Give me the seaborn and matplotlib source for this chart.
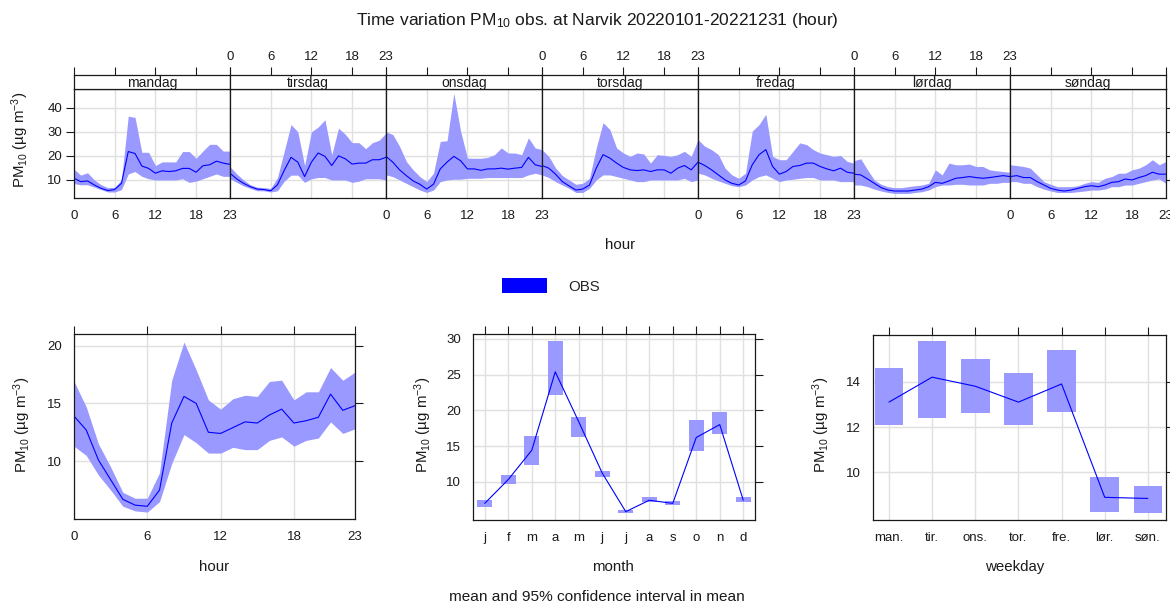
import numpy as np
import pandas as pd
import matplotlib
matplotlib.use("Agg")
import matplotlib.pyplot as plt
import seaborn as sns
from matplotlib.patches import Patch

sns.set_style("white")
plt.rcParams["font.family"] = ["Liberation Sans", "DejaVu Sans"]
plt.rcParams["mathtext.fontset"] = "custom"
plt.rcParams["mathtext.rm"] = "Liberation Sans"
plt.rcParams["mathtext.it"] = "Liberation Sans:italic"
plt.rcParams["mathtext.default"] = "regular"

# ---------------- data ----------------
hours = list(range(24))
day_names = ["mandag", "tirsdag", "onsdag", "torsdag", "fredag", "lørdag", "søndag"]

mandag_mean = [10.7, 9.3, 9.6, 7.9, 6.5, 5.6, 6.0, 8.6, 21.8, 21.0, 15.8, 14.8, 12.8, 13.8, 13.5, 13.8, 14.8, 14.8, 13.2, 15.9, 16.3, 17.8, 17.0, 16.5]
mandag_lo = [8.5, 8.0, 8.0, 7.0, 6.0, 5.0, 5.0, 6.0, 12.5, 13.5, 11.5, 10.5, 10.0, 10.0, 10.0, 10.0, 10.5, 9.0, 9.5, 10.5, 11.5, 12.5, 11.5, 11.5]
mandag_hi = [14.5, 12.0, 13.0, 10.0, 8.0, 6.8, 7.0, 10.0, 36.5, 36.0, 21.5, 21.5, 16.0, 17.5, 17.5, 17.5, 21.8, 21.8, 19.0, 22.0, 24.8, 24.8, 22.0, 22.0]

tirsdag_mean = [12.8, 10.4, 8.6, 7.2, 6.2, 6.0, 5.5, 8.0, 14.0, 19.4, 17.4, 11.4, 17.4, 21.2, 19.8, 16.0, 20.0, 18.8, 16.6, 17.0, 17.0, 18.4, 18.4, 19.4]
tirsdag_lo = [10.5, 9.0, 7.5, 6.5, 5.5, 5.5, 5.0, 5.5, 9.5, 12.0, 12.0, 9.0, 10.5, 11.0, 11.0, 10.0, 10.0, 10.0, 9.0, 9.5, 10.5, 10.5, 10.5, 10.0]
tirsdag_hi = [15.5, 12.5, 10.0, 8.0, 7.0, 6.8, 6.5, 11.0, 22.0, 33.0, 30.0, 16.0, 30.0, 32.0, 35.0, 20.5, 31.5, 29.0, 25.5, 25.5, 23.0, 25.5, 26.5, 29.5]

onsdag_mean = [19.8, 17.4, 14.2, 11.8, 9.6, 8.2, 6.2, 8.2, 14.6, 17.4, 19.8, 18.0, 14.6, 14.6, 14.0, 14.6, 14.6, 14.9, 14.5, 14.9, 15.2, 19.4, 16.3, 15.6]
onsdag_lo = [12.1, 11.4, 10.0, 8.6, 7.2, 5.8, 4.8, 5.8, 9.3, 10.0, 10.3, 10.3, 10.7, 10.7, 10.7, 11.0, 11.0, 11.0, 11.0, 11.0, 11.0, 12.1, 12.8, 12.1]
onsdag_hi = [30.0, 28.9, 24.0, 17.7, 14.2, 11.4, 9.3, 12.8, 26.0, 26.3, 46.0, 30.3, 19.1, 19.0, 19.0, 19.4, 20.5, 23.3, 21.2, 21.2, 20.5, 27.5, 23.3, 22.6]

torsdag_mean = [16.0, 14.9, 12.4, 9.3, 7.5, 5.8, 6.2, 7.9, 14.9, 20.5, 19.1, 17.0, 15.2, 14.2, 13.9, 14.2, 13.5, 14.2, 14.2, 12.8, 14.9, 16.0, 14.2, 17.4]
torsdag_lo = [12.1, 11.0, 9.3, 7.9, 6.5, 4.8, 4.8, 6.5, 10.0, 12.1, 12.1, 11.4, 10.7, 10.0, 9.3, 9.3, 10.0, 10.0, 10.0, 10.0, 10.0, 10.7, 9.3, 10.0]
torsdag_hi = [22.6, 19.8, 15.0, 11.8, 10.0, 8.2, 8.6, 10.7, 23.3, 33.8, 31.0, 23.3, 21.2, 19.8, 21.2, 20.8, 17.0, 20.5, 20.2, 19.8, 20.5, 21.9, 19.8, 26.8]

fredag_mean = [17.4, 16.0, 14.2, 12.1, 10.0, 8.6, 7.9, 9.6, 16.3, 20.5, 22.6, 15.6, 12.4, 13.5, 15.6, 16.0, 17.0, 17.0, 15.6, 14.6, 13.8, 14.9, 13.2, 12.8]
fredag_lo = [12.8, 12.1, 10.7, 9.6, 8.6, 7.6, 7.2, 7.9, 10.0, 11.4, 12.1, 10.7, 9.3, 10.0, 10.3, 10.7, 11.0, 11.0, 10.0, 10.0, 10.0, 9.3, 9.3, 9.3]
fredag_hi = [26.8, 24.0, 22.6, 20.5, 14.9, 12.1, 10.7, 12.8, 30.3, 33.0, 37.3, 19.8, 18.4, 18.4, 21.9, 25.4, 24.7, 22.6, 21.2, 20.5, 19.8, 20.2, 17.7, 17.0]

lordag_mean = [12.4, 12.1, 10.4, 8.6, 6.8, 5.8, 5.4, 5.4, 5.4, 5.8, 6.2, 7.2, 9.0, 8.6, 9.6, 10.7, 11.0, 11.4, 11.0, 10.7, 11.0, 11.4, 11.8, 11.4]
lordag_lo = [7.9, 7.9, 7.2, 6.2, 5.4, 4.8, 4.4, 4.4, 4.4, 4.8, 5.1, 5.8, 7.2, 7.9, 7.9, 8.2, 8.2, 7.9, 7.9, 7.9, 8.6, 8.6, 9.0, 9.0]
lordag_hi = [18.0, 18.8, 14.2, 10.0, 8.2, 7.2, 6.8, 6.8, 7.2, 7.6, 7.9, 8.6, 14.2, 12.1, 17.0, 16.3, 16.3, 16.6, 15.6, 15.6, 14.2, 13.8, 13.5, 13.2]

sondag_mean = [11.4, 11.8, 11.0, 11.0, 9.3, 7.9, 6.5, 5.8, 5.4, 5.8, 6.5, 7.2, 7.6, 7.2, 7.9, 9.0, 9.3, 10.4, 10.0, 11.0, 11.8, 13.2, 12.4, 12.4]
sondag_lo = [9.3, 9.3, 8.6, 8.6, 7.2, 6.2, 5.4, 4.8, 4.8, 4.8, 5.1, 5.4, 5.8, 5.8, 6.2, 7.2, 7.2, 7.9, 7.9, 8.6, 9.3, 10.0, 10.4, 8.6]
sondag_hi = [16.3, 16.0, 15.6, 14.9, 12.1, 9.3, 8.2, 7.2, 7.2, 7.2, 7.6, 8.6, 9.3, 9.0, 10.7, 11.4, 12.8, 12.8, 14.2, 14.9, 16.3, 18.4, 16.3, 17.7]

hour_mean = [13.9, 12.7, 10.1, 8.4, 6.7, 6.2, 6.1, 7.5, 13.3, 15.6, 15.0, 12.5, 12.4, 12.9, 13.4, 13.3, 14.0, 14.5, 13.3, 13.5, 13.8, 15.8, 14.4, 14.8]
hour_lo = [11.3, 10.5, 8.8, 7.5, 6.1, 5.7, 5.6, 6.5, 9.8, 12.3, 11.6, 10.7, 10.7, 11.2, 11.0, 11.0, 11.8, 12.1, 11.3, 11.8, 12.0, 13.4, 12.4, 12.8]
hour_hi = [16.9, 14.7, 11.5, 9.5, 7.3, 6.8, 6.8, 9.0, 17.0, 20.3, 17.9, 15.3, 14.5, 15.4, 15.7, 15.6, 16.9, 17.0, 15.3, 16.0, 16.0, 18.1, 17.0, 17.7]

month_labels = ["j", "f", "m", "a", "m", "j", "j", "a", "s", "o", "n", "d"]
month_mean = [6.96, 10.3, 14.4, 25.4, 18.4, 11.2, 5.8, 7.4, 6.96, 16.2, 18.0, 7.4]
month_lo = [6.4, 9.7, 12.4, 22.2, 16.2, 10.6, 5.6, 7.1, 6.7, 14.3, 16.7, 7.1]
month_hi = [7.4, 10.9, 16.4, 29.7, 19.1, 11.5, 6.1, 7.9, 7.3, 18.7, 19.8, 7.9]

weekday_labels = ["man.", "tir.", "ons.", "tor.", "fre.", "lør.", "søn."]
weekday_mean = [13.1, 14.2, 13.8, 13.1, 13.9, 8.9, 8.85]
weekday_lo = [12.1, 12.4, 12.6, 12.1, 12.65, 8.25, 8.2]
weekday_hi = [14.6, 15.8, 15.0, 14.4, 15.4, 9.8, 9.4]

# ---------------- styling ----------------
LINE = "#0000FF"
FILL = "#9999FF"
GRID = "#E0E0E0"
FRAME = "#1a1a1a"
TICK_FS = 9.5
STRIP_FS = 10
LAB_FS = 10.8
LW = 0.8
YLAB = "PM$_{10}$ (µg m$^{-3}$)"

W, H = 1170, 604
fig = plt.figure(figsize=(W / 100, H / 100), dpi=100)
fig.patch.set_facecolor("white")


def add_ax(x0, y0, x1, y1):
    return fig.add_axes([x0 / W, 1 - y1 / H, (x1 - x0) / W, (y1 - y0) / H])


def style(ax):
    for s in ax.spines.values():
        s.set_color(FRAME)
        s.set_linewidth(0.9)
    ax.tick_params(direction="out", length=5.5, width=0.8, color=FRAME,
                   labelcolor=FRAME, labelsize=TICK_FS, pad=3)
    ax.grid(True, color=GRID, lw=1.0)
    ax.set_axisbelow(True)


# ---------------- top panel: hour x weekday ----------------
day_data = [
    (mandag_mean, mandag_lo, mandag_hi),
    (tirsdag_mean, tirsdag_lo, tirsdag_hi),
    (onsdag_mean, onsdag_lo, onsdag_hi),
    (torsdag_mean, torsdag_lo, torsdag_hi),
    (fredag_mean, fredag_lo, fredag_hi),
    (lordag_mean, lordag_lo, lordag_hi),
    (sondag_mean, sondag_lo, sondag_hi),
]
xs = np.linspace(74, 1166, 8)
hticks = [0, 6, 12, 18, 23]
for i, (name, (m, lo, hi)) in enumerate(zip(day_names, day_data)):
    ax = add_ax(xs[i], 89, xs[i + 1], 198)
    style(ax)
    ax.fill_between(hours, lo, hi, color=FILL, lw=0)
    df = pd.DataFrame({"hour": hours, "value": m})
    sns.lineplot(data=df, x="hour", y="value", ax=ax, color=LINE, lw=LW)
    ax.set_xlim(0, 23)
    ax.set_ylim(2.5, 47.8)
    ax.set_xticks(hticks)
    ax.set_yticks([10, 20, 30, 40])
    ax.set_xlabel("")
    ax.set_ylabel("")
    if i % 2 == 0:
        ax.set_xticklabels([str(h) for h in hticks])
    else:
        ax.set_xticklabels([])
    if i == 0:
        ax.tick_params(axis="y", left=True, right=False, labelleft=True)
    elif i == 6:
        ax.tick_params(axis="y", left=False, right=True, labelleft=False)
    else:
        ax.tick_params(axis="y", left=False, right=False, labelleft=False)
    # strip
    st = add_ax(xs[i], 75, xs[i + 1], 89)
    for s in st.spines.values():
        s.set_color(FRAME)
        s.set_linewidth(0.9)
    st.set_xlim(0, 23)
    st.set_ylim(0, 1)
    st.set_yticks([])
    st.xaxis.set_ticks_position("top")
    st.set_xticks(hticks)
    st.tick_params(direction="out", length=5.5, width=0.8, color=FRAME,
                   labelcolor=FRAME, labelsize=TICK_FS, pad=3)
    if i % 2 == 1:
        st.set_xticklabels([str(h) for h in hticks])
    else:
        st.set_xticklabels([])
    st.text(11.5, 0.45, name, ha="center", va="center", fontsize=STRIP_FS, color=FRAME)

fig.text(20 / W, 1 - 140 / H, YLAB, rotation=90, ha="center", va="center",
         fontsize=LAB_FS, color=FRAME)
fig.text(620 / W, 1 - 245 / H, "hour", ha="center", va="center",
         fontsize=LAB_FS, color=FRAME)

# legend
fig.legend(handles=[Patch(facecolor=LINE, edgecolor="none", label="OBS")],
           loc="center", bbox_to_anchor=(551 / W, 1 - 286 / H), frameon=False,
           fontsize=LAB_FS, handlelength=3.0, handleheight=1.1,
           handletextpad=1.4)

# ---------------- bottom-left: hour ----------------
ax = add_ax(74, 334, 355, 519)
style(ax)
ax.fill_between(hours, hour_lo, hour_hi, color=FILL, lw=0)
sns.lineplot(data=pd.DataFrame({"hour": hours, "value": hour_mean}),
             x="hour", y="value", ax=ax, color=LINE, lw=LW)
ax.set_xlim(0, 23)
ax.set_ylim(5.0, 21.0)
ax.set_xticks(hticks)
ax.set_yticks([10, 15, 20])
ax.tick_params(top=True, right=True)
ax.set_xlabel("")
ax.set_ylabel("")
fig.text(214 / W, 1 - 567 / H, "hour", ha="center", va="center", fontsize=LAB_FS, color=FRAME)
fig.text(22 / W, 1 - 425 / H, YLAB, rotation=90, ha="center", va="center", fontsize=LAB_FS, color=FRAME)

# ---------------- bottom-middle: month ----------------
mx = list(range(12))
ax = add_ax(473, 334, 755, 520)
style(ax)
ax.bar(mx, np.array(month_hi) - np.array(month_lo), bottom=month_lo,
       width=0.64, color=FILL, lw=0)
sns.lineplot(data=pd.DataFrame({"m": mx, "value": month_mean}),
             x="m", y="value", ax=ax, color=LINE, lw=LW)
ax.set_xlim(-0.5, 11.5)
ax.set_ylim(4.63, 30.7)
ax.set_xticks(mx)
ax.set_xticklabels(month_labels)
ax.set_yticks([10, 15, 20, 25, 30])
ax.tick_params(top=True, right=True)
ax.set_xlabel("")
ax.set_ylabel("")
fig.text(613 / W, 1 - 567 / H, "month", ha="center", va="center", fontsize=LAB_FS, color=FRAME)
fig.text(423 / W, 1 - 425 / H, YLAB, rotation=90, ha="center", va="center", fontsize=LAB_FS, color=FRAME)

# ---------------- bottom-right: weekday ----------------
wx = list(range(7))
ax = add_ax(873, 335, 1166, 520)
style(ax)
ax.bar(wx, np.array(weekday_hi) - np.array(weekday_lo), bottom=weekday_lo,
       width=0.66, color=FILL, lw=0)
sns.lineplot(data=pd.DataFrame({"d": wx, "value": weekday_mean}),
             x="d", y="value", ax=ax, color=LINE, lw=LW)
ax.set_xlim(-0.37, 6.42)
ax.set_ylim(7.9, 16.06)
ax.set_xticks(wx)
ax.set_xticklabels(weekday_labels)
ax.set_yticks([10, 12, 14])
ax.tick_params(top=True, right=True)
ax.set_xlabel("")
ax.set_ylabel("")
fig.text(1015 / W, 1 - 567 / H, "weekday", ha="center", va="center", fontsize=LAB_FS, color=FRAME)
fig.text(821 / W, 1 - 425 / H, YLAB, rotation=90, ha="center", va="center", fontsize=LAB_FS, color=FRAME)

# ---------------- titles ----------------
fig.text(597 / W, 1 - 20 / H,
         "Time variation PM$_{10}$ obs. at Narvik 20220101-20221231 (hour)",
         ha="center", va="center", fontsize=12.5, color=FRAME)
fig.text(597 / W, 1 - 597 / H, "mean and 95% confidence interval in mean",
         ha="center", va="center", fontsize=11.1, color=FRAME)

fig.savefig("out.png", dpi=100, facecolor="white")
